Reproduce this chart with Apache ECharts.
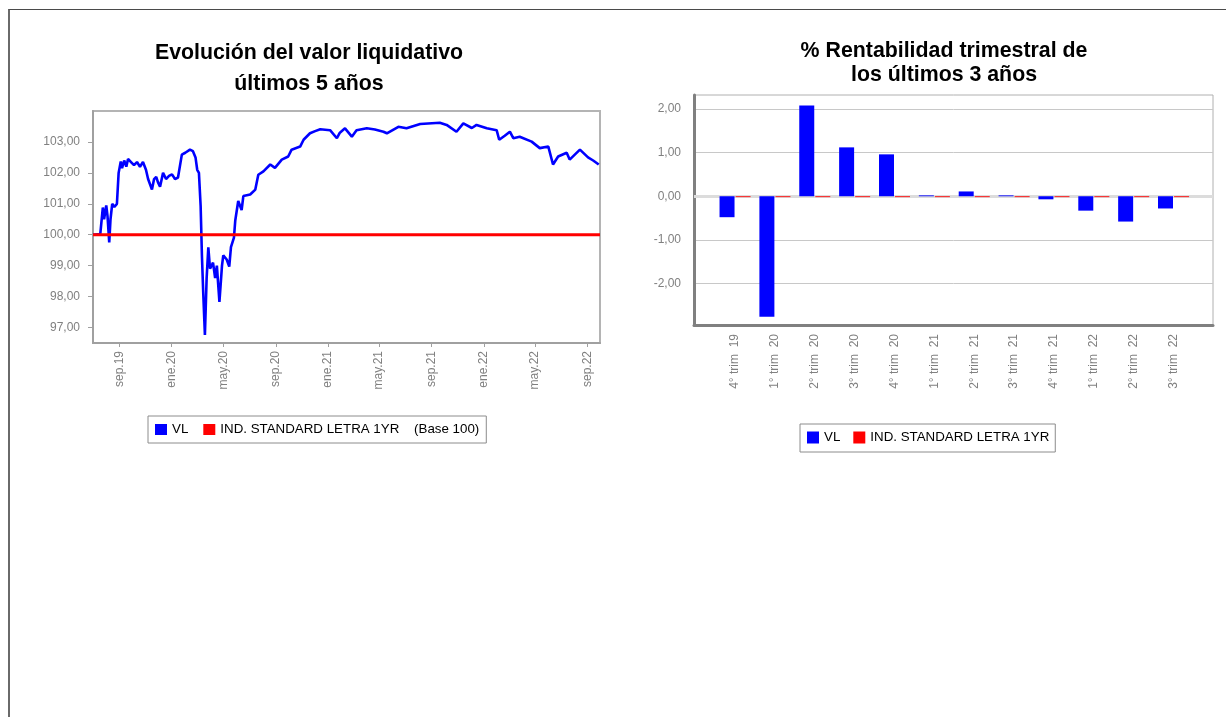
<!DOCTYPE html>
<html>
<head>
<meta charset="utf-8">
<script src="https://cdn.jsdelivr.net/npm/echarts@6/dist/echarts.min.js"></script>
<style>
  html, body { margin: 0; padding: 0; background: #ffffff; }
  #chart { position: absolute; left: 0; top: 0; width: 1226px; height: 717px; }
  #frame { position: absolute; left: 8px; top: 9px; width: 1218px; height: 708px;
           border-top: 1px solid #4a4a4a; border-left: 2px solid #6a6a6a;
           box-sizing: border-box; pointer-events: none; }
</style>
</head>
<body>
<div id="chart"></div>
<div id="frame"></div>
<script>
// ---- Valor liquidativo (base 100) ----
const vlDates = [
  '2019-07-01','2019-07-18','2019-07-24','2019-07-27','2019-08-01','2019-08-04','2019-08-08','2019-08-11',
  '2019-08-15','2019-08-20','2019-08-26','2019-08-30','2019-09-04','2019-09-07','2019-09-12','2019-09-17',
  '2019-09-21','2019-09-28','2019-10-05','2019-10-12','2019-10-19','2019-10-26','2019-11-02','2019-11-07',
  '2019-11-16','2019-11-21','2019-11-26','2019-11-30','2019-12-05','2019-12-12','2019-12-19','2019-12-26',
  '2020-01-02','2020-01-09','2020-01-16','2020-01-25','2020-02-02','2020-02-13','2020-02-20','2020-02-26',
  '2020-03-01','2020-03-05','2020-03-09','2020-03-12','2020-03-15','2020-03-19','2020-03-23','2020-03-27',
  '2020-03-31','2020-04-07','2020-04-12','2020-04-16','2020-04-22','2020-04-28','2020-05-01','2020-05-09',
  '2020-05-15','2020-05-19','2020-05-26','2020-05-29','2020-06-05','2020-06-13','2020-06-17','2020-07-03',
  '2020-07-15','2020-07-22','2020-08-03','2020-08-19','2020-08-30','2020-09-15','2020-09-30','2020-10-08',
  '2020-10-28','2020-11-05','2020-11-20','2020-12-02','2020-12-14','2021-01-06','2021-01-22','2021-01-29',
  '2021-02-10','2021-02-26','2021-03-09','2021-04-02','2021-04-21','2021-05-11','2021-05-19','2021-06-15',
  '2021-07-04','2021-08-05','2021-09-20','2021-10-06','2021-10-29','2021-11-14','2021-12-04','2021-12-15',
  '2022-01-08','2022-01-31','2022-02-06','2022-02-19','2022-03-03','2022-03-11','2022-03-26','2022-04-23',
  '2022-05-12','2022-06-01','2022-06-12','2022-06-24','2022-07-14','2022-07-21','2022-08-14','2022-09-02',
  '2022-09-14','2022-09-27'
];
const vlValues = [
  100.00,100.02,100.88,100.50,100.95,100.60, 99.75,100.50,
  101.00,100.90,101.00,102.00,102.37,102.15,102.40,102.20,
  102.45,102.35,102.25,102.35,102.20,102.35,102.10,101.80,
  101.46,101.80,101.87,101.70,101.55,102.00,101.80,101.90,
  101.95,101.80,101.85,102.59,102.65,102.75,102.70,102.50,
  102.10,102.00,100.93, 99.33, 98.15, 96.76, 98.58, 99.59,
   98.90, 99.10, 98.60, 99.00, 97.83, 99.00, 99.33, 99.20,
   98.97, 99.60, 99.91,100.45,101.09,100.80,101.25,101.30,
  101.46,101.94,102.05,102.27,102.16,102.43,102.53,102.75,
  102.85,103.07,103.28,103.35,103.41,103.38,103.12,103.30,
  103.44,103.17,103.38,103.44,103.40,103.33,103.28,103.49,
  103.44,103.58,103.62,103.55,103.33,103.60,103.45,103.55,
  103.44,103.38,103.07,103.20,103.33,103.12,103.17,103.01,
  102.80,102.85,102.27,102.53,102.65,102.43,102.75,102.50,
  102.40,102.27
];
// Índice de referencia (base 100)
const indDates = ['2019-07-01', '2022-09-30'];
const indValues = [100, 100];

const rangeStart = '2019-07-01';
const rangeEnd = '2022-09-30';
const monthTickDates = ['2019-09-01','2020-01-01','2020-05-01','2020-09-01','2021-01-01',
                        '2021-05-01','2021-09-01','2022-01-01','2022-05-01','2022-09-01'];
const monthTickLabels = ['sep.19','ene.20','may.20','sep.20','ene.21',
                         'may.21','sep.21','ene.22','may.22','sep.22'];
const navTicks = [97, 98, 99, 100, 101, 102, 103];

// ---- Rentabilidad trimestral (%) ----
const quarters = ['4° trim  19','1° trim  20','2° trim  20','3° trim  20','4° trim  20','1° trim  21',
                  '2° trim  21','3° trim  21','4° trim  21','1° trim  22','2° trim  22','3° trim  22'];
const quarterVL = [-0.48, -2.76, 2.08, 1.12, 0.96, 0.02, 0.11, 0.02, -0.07, -0.33, -0.58, -0.28];
const quarterIndex = [-0.02, -0.02, -0.02, -0.02, -0.02, -0.02, -0.02, -0.02, -0.02, -0.02, -0.02, -0.02];
const returnTicks = [-2, -1, 0, 1, 2];

const NAME_VL = 'VL';
const NAME_IND = 'IND. STANDARD LETRA 1YR';

const FONT = '"Liberation Sans", Arial, Helvetica, sans-serif';
const ts = d => new Date(d).getTime();
const tickTs = monthTickDates.map(ts);
const dec2 = v => v.toFixed(2).replace('.', ',');
const quarterIdx = quarters.map((_, i) => i);

const chart = echarts.init(document.getElementById('chart'), null, { renderer: 'canvas' });

const titleStyle = { fontSize: 21.33, fontWeight: 'bold', color: '#000000', fontFamily: FONT };
const legendText = { fontSize: 13.33, color: '#000000', fontFamily: FONT };

chart.setOption({
  animation: false,
  backgroundColor: '#ffffff',
  textStyle: { fontFamily: FONT },
  title: [
    { text: 'Evolución del valor liquidativo', left: 309, top: 43, textAlign: 'center', padding: 0, textStyle: titleStyle },
    { text: 'últimos 5 años', left: 309, top: 73.5, textAlign: 'center', padding: 0, textStyle: titleStyle },
    { text: '% Rentabilidad trimestral de', left: 944, top: 41, textAlign: 'center', padding: 0, textStyle: titleStyle },
    { text: 'los últimos 3 años', left: 944, top: 65, textAlign: 'center', padding: 0, textStyle: titleStyle }
  ],
  legend: [
    {
      data: [NAME_VL, NAME_IND],
      left: 148, top: 416,
      padding: [7, 7, 7, 7],
      itemGap: 15, itemWidth: 12, itemHeight: 11, icon: 'rect',
      borderColor: '#8c8c8c', borderWidth: 1,
      selectedMode: false,
      textStyle: legendText,
      formatter: name => name === NAME_IND ? name + '    (Base 100)' : name
    },
    {
      data: [NAME_VL, NAME_IND],
      left: 800, top: 424,
      padding: [7, 6, 8, 7],
      itemGap: 13, itemWidth: 12, itemHeight: 12, icon: 'rect',
      borderColor: '#8c8c8c', borderWidth: 1,
      selectedMode: false,
      textStyle: legendText
    }
  ],
  grid: [
    { left: 93, top: 111, width: 507, height: 232, show: true, borderColor: '#b4b4b4', borderWidth: 2, containLabel: false },
    { left: 694, top: 95, width: 519, height: 230, show: true, borderColor: '#b0b0b0', borderWidth: 1, containLabel: false }
  ],
  xAxis: [
    {
      gridIndex: 0, type: 'value', min: ts(rangeStart), max: ts(rangeEnd),
      axisLine: { show: true, onZero: false, lineStyle: { color: '#a0a0a0', width: 2 } },
      axisTick: { show: true, customValues: tickTs, length: 4, lineStyle: { color: '#a0a0a0' } },
      axisLabel: {
        customValues: tickTs, rotate: 90, margin: 8, fontSize: 12, color: '#808080',
        formatter: v => monthTickLabels[tickTs.indexOf(v)] || ''
      },
      splitLine: { show: false }
    },
    {
      gridIndex: 1, type: 'value', min: -1.03, max: 11.99,
      axisLine: { show: true, onZero: false, lineStyle: { color: '#808080', width: 3 } },
      axisTick: { show: false, customValues: quarterIdx },
      axisLabel: {
        customValues: quarterIdx, rotate: 90, margin: 9, fontSize: 12, color: '#808080',
        formatter: v => quarters[v] || ''
      },
      splitLine: { show: false }
    }
  ],
  yAxis: [
    {
      gridIndex: 0, type: 'value', min: 96.5, max: 104,
      axisLine: { show: true, onZero: false, lineStyle: { color: '#a0a0a0', width: 2 } },
      axisTick: { show: true, customValues: navTicks, length: 5, lineStyle: { color: '#a0a0a0' } },
      axisLabel: { customValues: navTicks, margin: 13, fontSize: 12, color: '#808080', formatter: dec2 },
      splitLine: { show: false }
    },
    {
      gridIndex: 1, type: 'value', min: -2.95, max: 2.32,
      axisLine: { show: true, onZero: false, lineStyle: { color: '#808080', width: 3 } },
      axisTick: { show: false, customValues: returnTicks },
      axisLabel: { customValues: returnTicks, margin: 13, fontSize: 12, color: '#808080', formatter: dec2 },
      splitLine: { show: true, lineStyle: { color: '#c8c8c8', width: 1 } }
    }
  ],
  series: [
    {
      name: NAME_VL, type: 'line', xAxisIndex: 0, yAxisIndex: 0,
      data: vlDates.map((d, i) => [ts(d), vlValues[i]]),
      color: '#0000ff', showSymbol: false, symbol: 'none',
      lineStyle: { color: '#0000ff', width: 2.6 }, z: 3
    },
    {
      name: NAME_IND, type: 'line', xAxisIndex: 0, yAxisIndex: 0,
      data: indDates.map((d, i) => [ts(d), indValues[i]]),
      color: '#ff0000', showSymbol: false, symbol: 'none',
      lineStyle: { color: '#ff0000', width: 3 }, z: 4
    },
    {
      name: NAME_VL, type: 'bar', xAxisIndex: 1, yAxisIndex: 1,
      data: quarterVL.map((v, i) => [i, v]),
      color: '#0000ff', barWidth: 15, barGap: '7%',
      itemStyle: { color: '#0000ff' },
      markLine: {
        silent: true, symbol: 'none', z: 1, label: { show: false },
        lineStyle: { color: '#dcdcdc', width: 3, type: 'solid' },
        data: [{ yAxis: 0 }]
      }
    },
    {
      name: NAME_IND, type: 'bar', xAxisIndex: 1, yAxisIndex: 1,
      data: quarterIndex.map((v, i) => [i, v]),
      color: '#ff0000', barWidth: 15, barGap: '7%',
      itemStyle: { color: '#ff0000' }
    }
  ]
});
</script>
</body>
</html>
